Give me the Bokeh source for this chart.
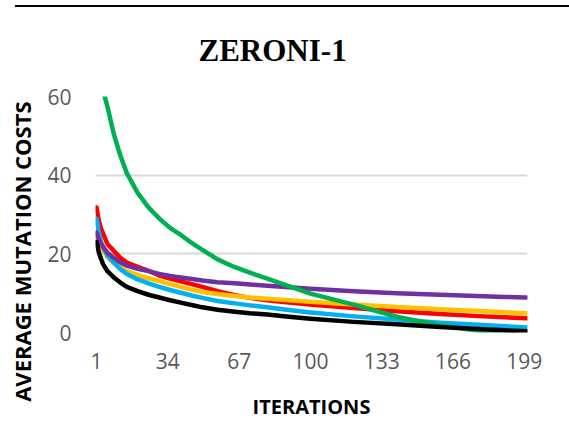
from bokeh.embed import file_html
from bokeh.layouts import column
from bokeh.models import Div, FixedTicker, Range1d
from bokeh.plotting import figure
from bokeh.resources import INLINE

# Average mutation cost per iteration, sampled at these iterations
iterations = [1, 2, 3, 4, 6, 9, 12, 15, 20, 25, 30, 35, 40, 45, 50, 57, 65,
              72, 80, 90, 100, 120, 140, 160, 180, 190, 200]

red = [31.8, 28.5, 26.5, 25.2, 22.5, 20.7, 19.0, 17.8, 16.7, 15.7, 14.5,
       13.7, 13.0, 12.3, 11.6, 10.5, 9.5, 8.8, 8.2, 7.6, 7.1, 6.2, 5.4, 4.7,
       4.1, 3.85, 3.6]
orange = [24.3, 23.0, 21.8, 20.9, 19.2, 17.6, 16.5, 15.6, 14.6, 13.8, 13.1,
          12.3, 11.6, 10.9, 10.3, 9.8, 9.3, 8.9, 8.6, 8.2, 7.8, 7.1, 6.5,
          5.9, 5.4, 5.15, 4.9]
blue = [28.9, 25.5, 23.2, 21.8, 19.6, 17.8, 16.1, 14.9, 13.5, 12.5, 11.6,
        10.8, 10.1, 9.4, 8.8, 8.0, 7.4, 6.9, 6.4, 5.7, 5.1, 4.1, 3.3, 2.5,
        1.9, 1.6, 1.3]
purple = [25.4, 23.8, 22.6, 21.8, 20.3, 19.0, 17.8, 17.0, 16.2, 15.6, 14.9,
          14.4, 14.0, 13.6, 13.2, 12.8, 12.5, 12.2, 11.9, 11.5, 11.1, 10.5,
          10.0, 9.6, 9.2, 9.05, 8.9]
green = [68.0, 65.5, 63.0, 61.5, 57.5, 50.4, 45.0, 40.5, 35.5, 31.8, 29.0,
         26.6, 24.8, 22.8, 21.0, 18.6, 16.6, 15.2, 13.7, 11.8, 9.9, 7.1, 4.0,
         1.8, 0.3, 0.0, -1.0]
black = [23.0, 20.5, 18.8, 17.4, 15.6, 14.0, 12.7, 11.6, 10.5, 9.6, 8.9,
         8.2, 7.6, 7.0, 6.4, 5.8, 5.3, 4.9, 4.6, 4.0, 3.5, 2.7, 2.1, 1.4,
         0.8, 0.55, 0.3]

series = [
    (red, "#FF0000"),
    (orange, "#FFC000"),
    (blue, "#00B0F0"),
    (purple, "#7030A0"),
    (green, "#00B050"),
    (black, "#000000"),
]

x_ticks = [1, 34, 67, 100, 133, 166, 199]
y_ticks = [0, 20, 40, 60]

title_text = "ZERONI-1"
x_label = "ITERATIONS"
y_label = "AVERAGE MUTATION COSTS"

# thin black rule across the top of the page; the negative bottom margin
# lets the (transparent-bordered) figure start at the very top
rule = Div(text="", width=554, height=2, margin=(5, 0, -7, 15),
           styles={"background-color": "black"})

p = figure(
    width=569, height=443,
    output_backend="svg", toolbar_location=None,
    x_range=Range1d(0.5, 200.5), y_range=Range1d(0, 60),
    min_border_left=95, min_border_right=42,
    min_border_top=96, min_border_bottom=111,
    margin=0,
)
p.outline_line_color = None
p.background_fill_color = "white"
p.border_fill_alpha = 0

for ys, color in series:
    p.line(iterations, ys, line_color=color, line_width=4.5,
           line_join="round", line_cap="round")

# title
p.title.text = title_text
p.title.text_font = "Liberation Serif"
p.title.text_font_style = "bold"
p.title.text_font_size = "31px"
p.title.text_color = "black"
p.title.align = "left"
p.title.offset = 103
p.title.standoff = 58

# axes: Excel-like, no axis lines, grey tick labels
for ax in (p.xaxis[0], p.yaxis[0]):
    ax.axis_line_color = None
    ax.major_tick_line_color = None
    ax.minor_tick_line_color = None
    ax.major_label_text_font = "Open Sans"
    ax.major_label_text_font_size = "21px"
    ax.major_label_text_color = "#595959"
    ax.axis_label_text_font = "Open Sans"
    ax.axis_label_text_font_style = "bold"
    ax.axis_label_text_color = "black"

p.xaxis.ticker = FixedTicker(ticks=x_ticks)
p.yaxis.ticker = FixedTicker(ticks=y_ticks)
p.xaxis.major_label_standoff = 14
p.yaxis.major_label_standoff = 18
p.xaxis.axis_label = x_label
p.xaxis.axis_label_text_font_size = "20px"
p.xaxis.axis_label_standoff = 21
# trailing no-break spaces push the rotated label down along the axis
p.yaxis.axis_label = y_label + "\u00a0" * 13
p.yaxis.axis_label_text_font_size = "22px"
p.yaxis.axis_label_standoff = 7

p.xgrid.grid_line_color = None
p.ygrid.ticker = FixedTicker(ticks=y_ticks)
p.ygrid.grid_line_color = "#D9D9D9"
p.ygrid.grid_line_width = 2

layout = column(rule, p, spacing=0)
open("out.html", "w").write(file_html(layout, INLINE))
